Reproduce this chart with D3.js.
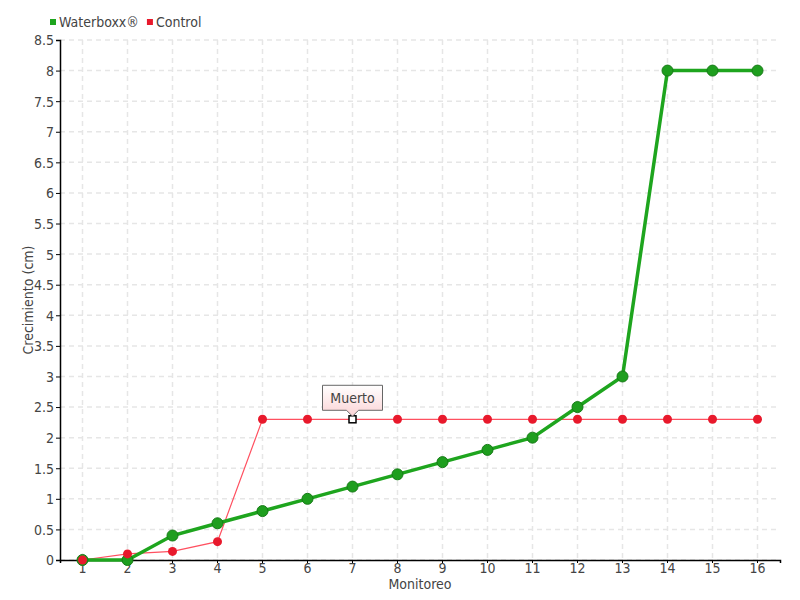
<!DOCTYPE html>
<html>
<head>
<meta charset="utf-8">
<script src="https://cdn.jsdelivr.net/npm/d3@7"></script>
<style>
  body { margin: 0; background: #fff; }
  svg text { font-family: "DejaVu Sans Condensed", "DejaVu Sans", sans-serif; font-stretch: condensed; fill: #444; }
</style>
</head>
<body>
<svg id="chart" width="800" height="600"></svg>
<script>
// monitoring rounds and growth (cm)
const monitoreo = [1, 2, 3, 4, 5, 6, 7, 8, 9, 10, 11, 12, 13, 14, 15, 16];
const waterboxx = [0, 0, 0.4, 0.6, 0.8, 1.0, 1.2, 1.4, 1.6, 1.8, 2.0, 2.5, 3.0, 8, 8, 8];
const control = [0, 0.1, 0.14, 0.3, 2.3, 2.3, 2.3, 2.3, 2.3, 2.3, 2.3, 2.3, 2.3, 2.3, 2.3, 2.3];
const yTicks = d3.range(0, 8.51, 0.5);
const note = { index: 6, text: 'Muerto' }; // control plant died at monitoreo 7

const svg = d3.select('#chart');
const margin = { left: 60, right: 20, top: 40, bottom: 40 };
const width = 800, height = 600;

const x = d3.scaleBand()
    .domain(monitoreo)
    .range([margin.left, width - margin.right]);
const y = d3.scaleLinear()
    .domain([0, 8.5])
    .range([height - margin.bottom, margin.top]);
const cx = d => x(d) + x.bandwidth() / 2;

// grid
const grid = svg.append('g').attr('stroke', '#e6e6e6').attr('stroke-dasharray', '5,4').attr('stroke-width', 1.5);
grid.selectAll('.gx').data(monitoreo).enter().append('line')
    .attr('x1', cx).attr('x2', cx)
    .attr('y1', margin.top).attr('y2', height - margin.bottom);
grid.selectAll('.gy').data(yTicks).enter().append('line')
    .attr('x1', margin.left).attr('x2', width - margin.right)
    .attr('y1', d => y(d)).attr('y2', d => y(d));

// axes
const xAxis = svg.append('g')
    .attr('transform', `translate(0,${height - margin.bottom})`)
    .call(d3.axisBottom(x).tickSizeOuter(0).tickSize(3).tickPadding(0));
const yAxis = svg.append('g')
    .attr('transform', `translate(${margin.left},0)`)
    .call(d3.axisLeft(y).tickValues(yTicks).tickSizeOuter(0).tickSize(4).tickPadding(2).tickFormat(d3.format('~g')));
[xAxis, yAxis].forEach(a => {
    a.select('.domain').attr('stroke', '#000').attr('stroke-width', 1.5);
    a.selectAll('.tick line').attr('stroke', '#000');
    a.selectAll('text').style('font-size', '14px').attr('fill', '#444');
});
xAxis.selectAll('text').attr('y', 3).attr('dy', '0.7em');
yAxis.selectAll('text').attr('dy', '0.35em');

// axis titles
svg.append('text')
    .attr('x', (margin.left + width - margin.right) / 2)
    .attr('y', 589)
    .attr('text-anchor', 'middle')
    .style('font-size', '14px')
    .text('Monitoreo');
svg.append('text')
    .attr('transform', 'translate(33,300) rotate(-90)')
    .attr('text-anchor', 'middle')
    .style('font-size', '14px')
    .text('Crecimiento (cm)');

// series
const line = d3.line().x((d, i) => cx(monitoreo[i])).y(d => y(d));

svg.append('path').datum(control)
    .attr('fill', 'none').attr('stroke', '#ff5060').attr('stroke-width', 1.2)
    .attr('d', line);

svg.append('path').datum(waterboxx)
    .attr('fill', 'none').attr('stroke', '#1ea51e').attr('stroke-width', 3.5)
    .attr('d', line);

svg.selectAll('.wb').data(waterboxx).enter().append('circle')
    .attr('cx', (d, i) => cx(monitoreo[i]))
    .attr('cy', d => y(d))
    .attr('r', 5.5)
    .attr('fill', '#1e9e1e')
    .attr('stroke', '#167a16')
    .attr('stroke-width', 1);

const controlPts = control.map((v, i) => ({ v, i })).filter(d => d.i !== note.index);
svg.selectAll('.ct').data(controlPts).enter().append('circle')
    .attr('cx', d => cx(monitoreo[d.i]))
    .attr('cy', d => y(d.v))
    .attr('r', 4.5)
    .attr('fill', '#e8192c');

// annotation
const nx = cx(monitoreo[note.index]), ny = y(control[note.index]);
svg.append('rect')
    .attr('x', nx - 3.5).attr('y', ny - 3.5).attr('width', 7).attr('height', 7)
    .attr('fill', '#fff').attr('stroke', '#000').attr('stroke-width', 1.5);

const defs = svg.append('defs');
const grad = defs.append('linearGradient').attr('id', 'tipGrad').attr('x1', 0).attr('y1', 0).attr('x2', 0).attr('y2', 1);
grad.append('stop').attr('offset', '0%').attr('stop-color', '#ffffff');
grad.append('stop').attr('offset', '100%').attr('stop-color', '#fbd3d5');

const bw = 60, bh = 25, by = ny - 34;
svg.append('path')
    .attr('d', `M${nx - bw / 2},${by} h${bw} v${bh} h${-(bw / 2 - 6)} l-6,6 l-6,-6 h${-(bw / 2 - 6)} Z`)
    .attr('fill', 'url(#tipGrad)')
    .attr('stroke', '#666')
    .attr('stroke-width', 1);
svg.append('text')
    .attr('x', nx).attr('y', by + bh / 2 + 5)
    .attr('text-anchor', 'middle')
    .style('font-size', '14px')
    .text(note.text);

// legend
const legend = [{ name: 'Waterboxx®', color: '#1ea51e' }, { name: 'Control', color: '#e8192c' }];
const lg = svg.append('g').attr('transform', 'translate(50,22)');
let off = 0;
legend.forEach(l => {
    lg.append('rect').attr('x', off).attr('y', -3).attr('width', 6).attr('height', 6).attr('fill', l.color);
    const t = lg.append('text').attr('x', off + 9).attr('y', 5).style('font-size', '14px').text(l.name);
    off += 9 + t.node().getComputedTextLength() + 8;
});
</script>
</body>
</html>
